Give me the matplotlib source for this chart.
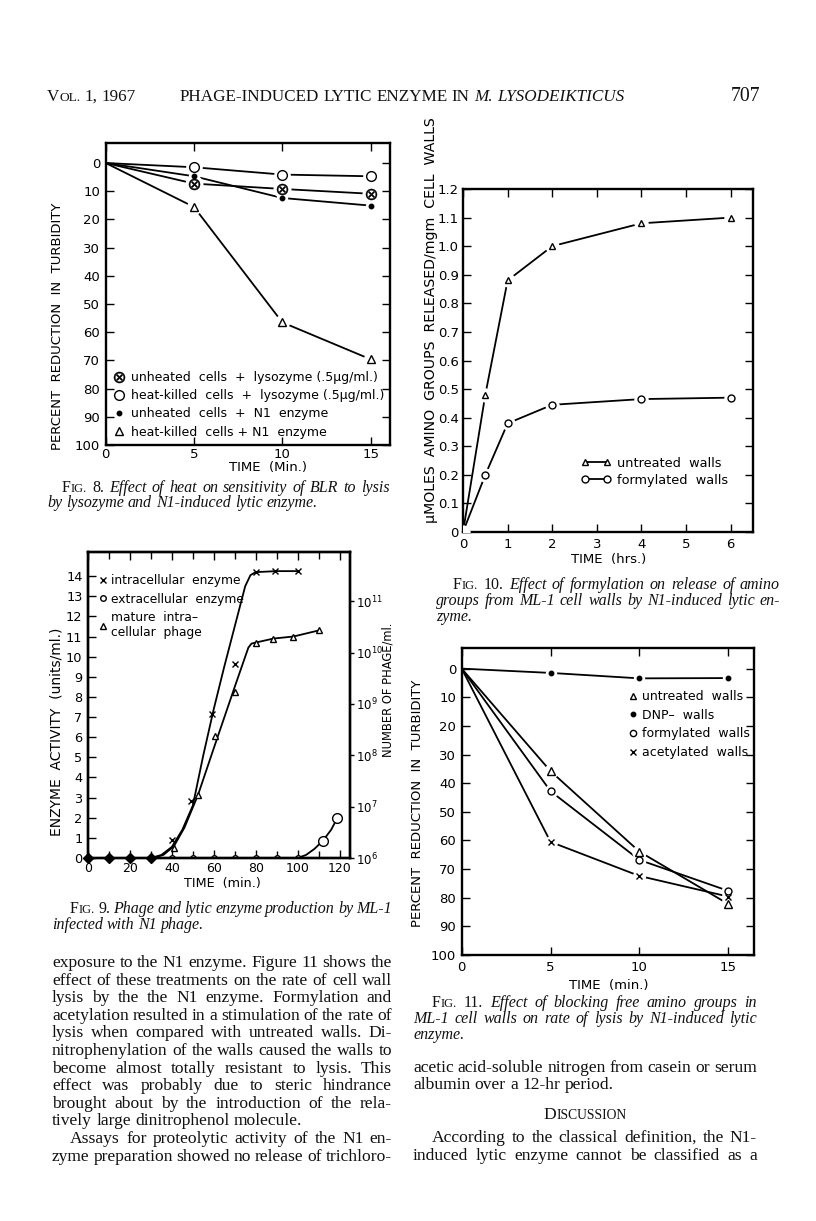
import matplotlib
matplotlib.use("Agg")
import matplotlib.pyplot as plt
from matplotlib.lines import Line2D
from matplotlib.ticker import NullLocator, FixedLocator

# ---------------- data ----------------
# Fig. 8
t8 = [0, 5, 10, 15]
unheated_lyso = [0, 7.3, 9.2, 10.9]
heatkilled_lyso = [0, 1.5, 4.1, 4.7]
unheated_n1 = [0, 4.7, 12.4, 15.1]
heatkilled_n1 = [0, 15.6, 56.5, 69.6]

# Fig. 9  (markers)
early_t = [0, 10, 20, 30]                     # all three series coincide at zero
early_v = [0, 0, 0, 0]
intra_t = [40, 49, 59, 70, 80, 89, 100]
intra_v = [0.9, 2.85, 7.15, 9.65, 14.2, 14.25, 14.25]
extra_t = [40, 50, 60, 70, 80, 90, 100, 112, 119]
extra_v = [0, 0, 0, 0, 0, 0, 0, 0.85, 2.0]
phage_t = [41, 52.5, 60.5, 70, 80, 88.5, 98, 110]
phage_v = [1.57e6, 1.7e7, 2.4e8, 1.7e9, 1.57e10, 1.88e10, 2.06e10, 2.7e10]
# Fig. 9 (hand-drawn curves)
intra_curve_t = [0, 30, 35, 40, 45, 50, 55, 60, 65, 70, 75, 77.5, 80, 90, 100]
intra_curve_v = [0, 0, 0.15, 0.55, 1.4, 2.6, 5.1, 7.4, 9.5, 11.5, 13.5, 14.05, 14.2, 14.25, 14.25]
phage_curve_t = [31, 36, 41, 46, 52.5, 60, 70, 76.5, 78, 80, 88.5, 98, 110]
phage_curve_v = [1.0e6, 1.15e6, 1.7e6, 3.9e6, 1.7e7, 1.37e8, 2.15e9, 1.25e10, 1.5e10,
                 1.57e10, 1.88e10, 2.06e10, 2.7e10]
extra_curve_t = [0, 100, 104, 108, 112, 116, 119]
extra_curve_v = [0, 0, 0.15, 0.45, 0.85, 1.4, 2.0]

# Fig. 10
t10 = [0, 0.5, 1, 2, 4, 6]
untreated10 = [0, 0.48, 0.88, 1.0, 1.08, 1.10]
formyl10 = [0, 0.20, 0.38, 0.445, 0.465, 0.47]

# Fig. 11
t11 = [0, 5, 10, 15]
untreated11 = [0, 35.8, 63.9, 82.2]
dnp11 = [0, 1.5, 3.4, 3.3]
formyl11 = [0, 42.8, 66.8, 77.6]
acetyl11 = [0, 60.5, 72.4, 79.6]

# ---------------- figure ----------------
W, H = 816, 1221
plt.rcParams['font.family'] = ['DejaVu Sans']
fig = plt.figure(figsize=(W / 100, H / 100), dpi=100)
fig.patch.set_facecolor('white')
SANS = 'DejaVu Sans'
SERIF = 'Liberation Serif'


def fx(x):
    return x / W


def fy(y):
    return 1 - y / H


def axes_px(l, t, r, b):
    return fig.add_axes([l / W, 1 - b / H, (r - l) / W, (b - t) / H])


def style_axes(ax, labelsize=9.5):
    for s in ax.spines.values():
        s.set_linewidth(1.7)
    ax.tick_params(which='both', direction='in', top=True, right=True,
                   length=6, width=1.0, labelsize=labelsize, pad=4)
    ax.tick_params(which='minor', length=5)


def series(ax, x, y, marker, ms, mfc='white', lw=1.3, line=True, gap=True, mew=1.0):
    if line:
        ax.plot(x, y, color='black', lw=lw, zorder=2, solid_capstyle='round')
    if gap:
        ax.plot(x, y, ls='none', marker='o', ms=ms + 5, mfc='white', mec='none', zorder=3)
    ax.plot(x, y, ls='none', marker=marker, ms=ms, mfc=mfc, mec='black', mew=mew,
            color='black', zorder=4)


def sans_label(x, y, s, size=9.5, rot=0):
    fig.text(fx(x), fy(y), s, fontsize=size, family=SANS, rotation=rot,
             ha='center', va='center')


# ---------- Fig. 8 ----------
ax8 = axes_px(105.7, 143, 390, 445)
ax8.set_xlim(0, 16.1)
ax8.set_ylim(100, -7.1)
ax8.set_xticks([0, 5, 10, 15])
ax8.set_yticks(range(0, 101, 10))
style_axes(ax8)
ax8.tick_params(axis='x', pad=2.5)
for yv in (heatkilled_n1, unheated_n1, unheated_lyso, heatkilled_lyso):
    ax8.plot(t8, yv, color='black', lw=1.3, zorder=2)
series(ax8, t8[1:], heatkilled_n1[1:], '^', 6, line=False)
series(ax8, t8[1:], unheated_n1[1:], 'o', 3.2, mfc='black', line=False)
series(ax8, t8[1:], unheated_lyso[1:], '$\\otimes$', 8, mfc='black', line=False, mew=0.3)
series(ax8, t8[1:], heatkilled_lyso[1:], 'o', 7, line=False)
h8 = [Line2D([], [], ls='none', marker='$\\otimes$', ms=8, color='black', mew=0.3),
      Line2D([], [], ls='none', marker='o', ms=7, mfc='white', mec='black'),
      Line2D([], [], ls='none', marker='o', ms=3.2, color='black'),
      Line2D([], [], ls='none', marker='^', ms=6, mfc='white', mec='black')]
l8 = ['unheated  cells  +  lysozyme (.5μg/ml.)',
      'heat-killed  cells  +  lysozyme (.5μg/ml.)',
      'unheated  cells  +  N1  enzyme',
      'heat-killed  cells + N1  enzyme']
ax8.legend(h8, l8, loc='upper left', bbox_to_anchor=(fx(114), fy(371)),
           bbox_transform=fig.transFigure, frameon=False, fontsize=9.0,
           handlelength=0.8, handletextpad=0.55, labelspacing=0.42,
           borderpad=0, borderaxespad=0)
sans_label(58, 326, 'PERCENT  REDUCTION  IN  TURBIDITY', 9.5, 90)
sans_label(268, 467, 'TIME  (Min.)', 9.5)

# ---------- Fig. 10 ----------
ax10 = axes_px(463, 189, 753, 532)
ax10.set_xlim(0, 6.5)
ax10.set_ylim(0, 1.185)
ax10.set_xticks(range(0, 7))
ax10.set_yticks([i / 10 for i in range(0, 13)])
ax10.set_yticklabels(['0'] + ['%.1f' % (i / 10) for i in range(1, 13)])
style_axes(ax10)
ax10.tick_params(axis='y', pad=3)
series(ax10, t10, untreated10, 'None', 5)
series(ax10, t10, formyl10, 'None', 5)
series(ax10, t10[1:], untreated10[1:], '^', 5, line=False)
series(ax10, t10[1:], formyl10[1:], 'o', 5, line=False)
h10 = [Line2D([], [], marker='^', ms=5, mfc='white', mec='black', color='black', lw=1.3),
       Line2D([], [], marker='o', ms=5, mfc='white', mec='black', color='black', lw=1.3)]
ax10.legend(h10, ['untreated  walls', 'formylated  walls'], loc='upper left',
            bbox_to_anchor=(fx(581), fy(457)), bbox_transform=fig.transFigure,
            frameon=False, fontsize=9.3, numpoints=2, handlelength=2.3,
            handletextpad=0.5, labelspacing=0.3, borderpad=0, borderaxespad=0)
sans_label(431, 320, 'μMOLES  AMINO  GROUPS  RELEASED/mgm  CELL  WALLS', 10.2, 90)
sans_label(609, 560, 'TIME  (hrs.)', 9.5)

# ---------- Fig. 9 ----------
ax9 = axes_px(88, 552, 350, 858)
ax9.set_xlim(0, 125)
ax9.set_ylim(0, 15.2)
ax9.set_xticks(range(0, 121, 20))
ax9.xaxis.set_minor_locator(FixedLocator(range(10, 121, 20)))
ax9.set_yticks(range(0, 15))
style_axes(ax9, 9.3)
ax9.tick_params(which='both', right=False)
ax9.tick_params(axis='x', labelsize=9.0, pad=3)
ax9r = ax9.twinx()
ax9r.set_yscale('log')
ax9r.set_ylim(1e6, 10 ** 11.96)
ax9r.set_yticks([1e6, 1e7, 1e8, 1e9, 1e10, 1e11])
ax9r.yaxis.set_minor_locator(NullLocator())
for s in ax9r.spines.values():
    s.set_linewidth(1.7)
ax9r.tick_params(direction='out', length=3, width=1.0, labelsize=8.5, pad=1.5)

ax9.plot(intra_curve_t, intra_curve_v, color='black', lw=1.3, zorder=2)
ax9.plot(extra_curve_t, extra_curve_v, color='black', lw=1.3, zorder=2)
ax9r.plot(phage_curve_t, phage_curve_v, color='black', lw=1.3, zorder=2)
series(ax9, intra_t, intra_v, 'x', 5, line=False, gap=False, mew=1.0)
series(ax9, extra_t, extra_v, 'o', 4, line=False, gap=False)
series(ax9, extra_t[-2:], extra_v[-2:], 'o', 7, line=False, gap=False)
series(ax9r, phage_t, phage_v, '^', 5, line=False, gap=False)
ax9.plot(early_t, early_v, ls='none', marker='D', ms=5, color='black', zorder=5, clip_on=False)
h9 = [Line2D([], [], ls='none', marker='x', ms=5, color='black'),
      Line2D([], [], ls='none', marker='o', ms=4, mfc='white', mec='black'),
      Line2D([], [], ls='none', marker='^', ms=5, mfc='white', mec='black')]
ax9.legend(h9, ['intracellular  enzyme', 'extracellular  enzyme',
                'mature  intra–\ncellular  phage'],
           loc='upper left', bbox_to_anchor=(fx(99), fy(574)),
           bbox_transform=fig.transFigure, frameon=False, fontsize=8.8,
           handlelength=0.6, handletextpad=0.35, labelspacing=0.45,
           borderpad=0, borderaxespad=0)
sans_label(57, 732, 'ENZYME  ACTIVITY  (units/ml.)', 10.0, 90)
sans_label(388, 690, 'NUMBER OF PHAGE/ml.', 8.3, 90)
sans_label(222, 883, 'TIME  (min.)', 9.2)

# ---------- Fig. 11 ----------
ax11 = axes_px(461.7, 648, 754, 955)
ax11.set_xlim(0, 16.45)
ax11.set_ylim(100, -7.2)
ax11.set_xticks([0, 5, 10, 15])
ax11.set_yticks(range(0, 101, 10))
style_axes(ax11)
for yv in (untreated11, dnp11, formyl11, acetyl11):
    ax11.plot(t11, yv, color='black', lw=1.3, zorder=2)
series(ax11, t11[1:], untreated11[1:], '^', 5.5, line=False)
series(ax11, t11[1:], dnp11[1:], 'o', 3.2, mfc='black', line=False)
series(ax11, t11[1:], formyl11[1:], 'o', 5, line=False)
series(ax11, t11[1:], acetyl11[1:], 'x', 4.5, line=False)
h11 = [Line2D([], [], ls='none', marker='^', ms=5, mfc='white', mec='black'),
       Line2D([], [], ls='none', marker='o', ms=3.2, color='black'),
       Line2D([], [], ls='none', marker='o', ms=4.5, mfc='white', mec='black'),
       Line2D([], [], ls='none', marker='x', ms=4.5, color='black')]
ax11.legend(h11, ['untreated  walls', 'DNP–  walls', 'formylated  walls',
                  'acetylated  walls'], loc='upper left',
            bbox_to_anchor=(fx(629), fy(690)), bbox_transform=fig.transFigure,
            frameon=False, fontsize=9.0, handlelength=0.6, handletextpad=0.45,
            labelspacing=0.45, borderpad=0, borderaxespad=0)
sans_label(418, 803, 'PERCENT  REDUCTION  IN  TURBIDITY', 9.5, 90)
sans_label(609, 985, 'TIME  (min.)', 9.5)

# ---------------- typeset text ----------------
renderer = fig.canvas.get_renderer()
_cache = {}


def seg_width(s, style, size):
    key = (s, style, round(size, 3))
    if key not in _cache:
        t = fig.text(0, 0, s, family=SERIF, style='italic' if style == 'i' else 'normal',
                     fontsize=size * 0.78 if style == 'sc' else size)
        _cache[key] = t.get_window_extent(renderer).width
        t.remove()
    return _cache[key]


def split_words(runs):
    words, cur = [], []
    for text, st in runs:
        for c in text:
            if c == ' ':
                if cur:
                    words.append(cur)
                    cur = []
            else:
                if cur and cur[-1][1] == st:
                    cur[-1] = (cur[-1][0] + c, st)
                else:
                    cur.append((c, st))
    if cur:
        words.append(cur)
    return words


def space_w(size):
    return seg_width('a a', 'r', size) - seg_width('aa', 'r', size)


def natural(runs, size):
    ws = split_words(runs)
    return sum(seg_width(s, st, size) for w in ws for s, st in w) + (len(ws) - 1) * space_w(size)


def draw_line(runs, x0, ybase, size, x1=None, color='#111111'):
    ws = split_words(runs)
    widths = [sum(seg_width(s, st, size) for s, st in w) for w in ws]
    gap = space_w(size)
    if x1 is not None and len(ws) > 1:
        gap = (x1 - x0 - sum(widths)) / (len(ws) - 1)
    x = x0
    for w, wd in zip(ws, widths):
        for s, st in w:
            fig.text(fx(x), fy(ybase), s, family=SERIF,
                     style='italic' if st == 'i' else 'normal',
                     fontsize=size * 0.78 if st == 'sc' else size,
                     ha='left', va='baseline', color=color)
            x += seg_width(s, st, size)
        x += gap


def fit_size(lines, base=10.0, min_space=0.75, q=0.3):
    ratios = sorted((x1 - x0) / natural(runs, base) for runs, x0, x1 in lines)
    r = ratios[int(len(ratios) * q)]
    # never so large that a line's spaces shrink below min_space of normal
    tight = []
    for runs, x0, x1 in lines:
        ws = split_words(runs)
        wsum = sum(seg_width(s, st, base) for w in ws for s, st in w)
        tight.append((x1 - x0) / (wsum + min_space * space_w(base) * (len(ws) - 1)))
    r = min(r, min(tight))
    return base * r


# header
hdr_title = [('PHAGE-INDUCED LYTIC ENZYME IN ', 'r'), ('M. LYSODEIKTICUS', 'i')]
hsize = 10.0 * (447 / natural(hdr_title, 10.0))
draw_line(hdr_title, 180, 101, hsize)
draw_line([('V', 'r'), ('OL.', 'sc'), (' 1, 1967', 'r')], 47, 101, hsize)
draw_line([('707', 'r')], 731, 101, hsize * 1.15)

# captions
cap = {
    8: ([[('F', 'r'), ('IG.', 'sc'), (' 8. ', 'r'),
          ('Effect of heat on sensitivity of BLR to lysis', 'i')],
         [('by lysozyme and N1-induced lytic enzyme.', 'i')]],
        [(62, 390), (47, None)], [492, 507]),
    9: ([[('F', 'r'), ('IG.', 'sc'), (' 9. ', 'r'),
          ('Phage and lytic enzyme production by ML-1', 'i')],
         [('infected with N1 phage.', 'i')]],
        [(70, 392), (52, None)], [913, 929]),
    10: ([[('F', 'r'), ('IG.', 'sc'), (' 10. ', 'r'),
           ('Effect of formylation on release of amino', 'i')],
          [('groups from ML-1 cell walls by N1-induced lytic en-', 'i')],
          [('zyme.', 'i')]],
         [(453, 780), (436, 780), (436, None)], [589, 605, 621]),
    11: ([[('F', 'r'), ('IG.', 'sc'), (' 11. ', 'r'),
           ('Effect of blocking free amino groups in', 'i')],
          [('ML-1 cell walls on rate of lysis by N1-induced lytic', 'i')],
          [('enzyme.', 'i')]],
         [(432, 757), (413, 757), (413, None)], [1007, 1023, 1039]),
}
fit_lines = []
for k, (lines, xs, ys) in cap.items():
    for runs, (x0, x1) in zip(lines, xs):
        if x1 is not None:
            fit_lines.append((runs, x0, x1))
csize = fit_size(fit_lines, q=0.5)
for k, (lines, xs, ys) in cap.items():
    for runs, (x0, x1), yb in zip(lines, xs, ys):
        draw_line(runs, x0, yb, csize, x1)

# body text
left_body = [
    ("exposure to the N1 enzyme. Figure 11 shows the", 52, True),
    ("effect of these treatments on the rate of cell wall", 52, True),
    ("lysis by the the N1 enzyme. Formylation and", 52, True),
    ("acetylation resulted in a stimulation of the rate of", 52, True),
    ("lysis when compared with untreated walls. Di-", 52, True),
    ("nitrophenylation of the walls caused the walls to", 52, True),
    ("become almost totally resistant to lysis. This", 52, True),
    ("effect was probably due to steric hindrance", 52, True),
    ("brought about by the introduction of the rela-", 52, True),
    ("tively large dinitrophenol molecule.", 52, False),
    ("Assays for proteolytic activity of the N1 en-", 70, True),
    ("zyme preparation showed no release of trichloro-", 52, True),
]
right_body = [
    ("acetic acid-soluble nitrogen from casein or serum", 413, True, 1072),
    ("albumin over a 12-hr period.", 413, False, 1089),
    ("According to the classical definition, the N1-", 432, True, 1142),
    ("induced lytic enzyme cannot be classified as a", 413, True, 1160),
]
fit_b = [([(s, 'r')], x0, 392) for s, x0, j in left_body if j]
fit_b += [([(s, 'r')], x0, 757) for s, x0, j, y in right_body if j]
bsize = fit_size(fit_b, q=0.25)
for i, (s, x0, j) in enumerate(left_body):
    draw_line([(s, 'r')], x0, 967 + i * 17.6, bsize, 392 if j else None)
for s, x0, j, yb in right_body:
    draw_line([(s, 'r')], x0, yb, bsize, 757 if j else None)
# section heading (small caps, centred)
head = [('D', 'r'), ('ISCUSSION', 'sc')]
hw = natural(head, bsize)
draw_line(head, 585 - hw / 2, 1119, bsize)

fig.savefig('out.png', dpi=100, facecolor='white')
